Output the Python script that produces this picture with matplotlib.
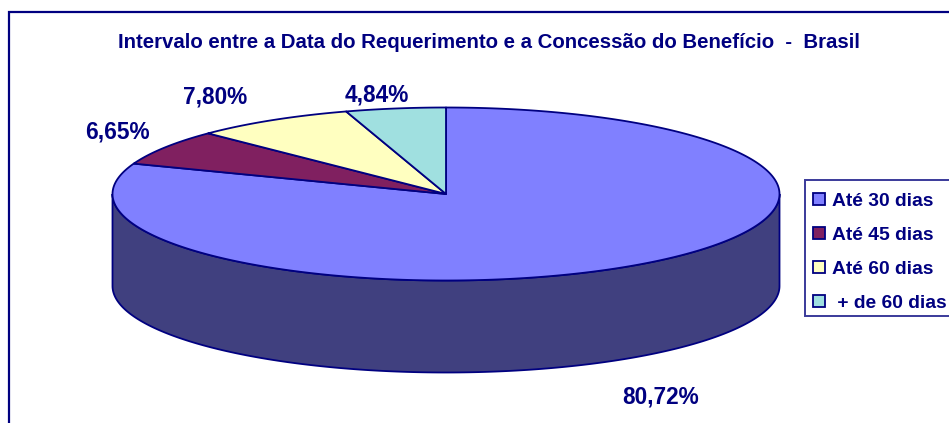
import numpy as np
import matplotlib
matplotlib.use("Agg")
import matplotlib.pyplot as plt
from matplotlib.patches import Patch, Rectangle

plt.rcParams['font.family'] = ['Liberation Sans', 'DejaVu Sans']

title = "Intervalo entre a Data do Requerimento e a Concessão do Benefício  -  Brasil"
categories = ["Até 30 dias", "Até 45 dias", "Até 60 dias", " + de 60 dias"]
values = [80.72, 6.65, 7.80, 4.84]
colors = ["#8080FF", "#802060", "#FFFFC0", "#A0E0E0"]
side_color = "#40407F"
navy = "#000080"

# Pie geometry (pixels)
cx, cy, rx, ry, depth = 446.0, 194.0, 333.5, 86.5, 92.0
label_pos = [(661, 397), (117, 132), (215, 97), (377, 95)]

fig = plt.figure(figsize=(9.49, 4.23), dpi=100, facecolor="white")
ax = fig.add_axes([0, 0, 1, 1])
ax.set_xlim(0, 949)
ax.set_ylim(423, 0)
ax.axis("off")

# Outer frame: left and top edges only are visible
ax.plot([9.5, 9.5, 949], [423, 12.5, 12.5], color=navy, lw=1.6,
        solid_joinstyle="miter", clip_on=False)

# Side wall: front half of the ellipse
t = np.linspace(np.pi, 2 * np.pi, 200)
xs = cx + rx * np.cos(t)
ys = cy - ry * np.sin(t)
ax.fill(np.r_[xs, xs[::-1]], np.r_[ys, ys[::-1] + depth], facecolor=side_color,
        edgecolor=navy, lw=1.3, zorder=1)

# Top wedges, clockwise from 12 o'clock
fracs = np.array(values) / sum(values)
start = np.pi / 2
for frac, col in zip(fracs, colors):
    end = start - frac * 2 * np.pi
    a = np.linspace(start, end, 300)
    ax.fill(np.r_[cx, cx + rx * np.cos(a)], np.r_[cy, cy - ry * np.sin(a)],
            facecolor=col, edgecolor=navy, lw=1.3, joinstyle="round", zorder=2)
    start = end

# Title and labels
ax.text(489.5, 42, title, ha="center", va="center", color=navy, fontsize=14.7,
        fontweight="bold")
for v, (x, y) in zip(values, label_pos):
    ax.text(x, y, f"{v:.2f}%".replace(".", ","), ha="center", va="center",
            color=navy, fontsize=16.3, fontweight="bold")

# Legend box runs off the right of the figure, as in the reference
ax.add_patch(Rectangle((805.5, 180.5), 160, 136, facecolor="white",
                       edgecolor="#3A3A9A", lw=1.4, zorder=3, clip_on=True))
handles = [Patch(facecolor=c, edgecolor=navy, lw=1.3) for c in colors]
leg = ax.legend(handles, categories, loc="upper left",
                bbox_to_anchor=(804.5, 184.5), bbox_transform=ax.transData,
                labelcolor=navy, prop={"weight": "bold", "size": 13.9},
                frameon=False, borderaxespad=0, borderpad=0.42, labelspacing=0.88,
                handlelength=0.62, handleheight=0.62, handletextpad=0.36)
leg.set_zorder(4)

fig.savefig("out.png", dpi=100, facecolor="white")
